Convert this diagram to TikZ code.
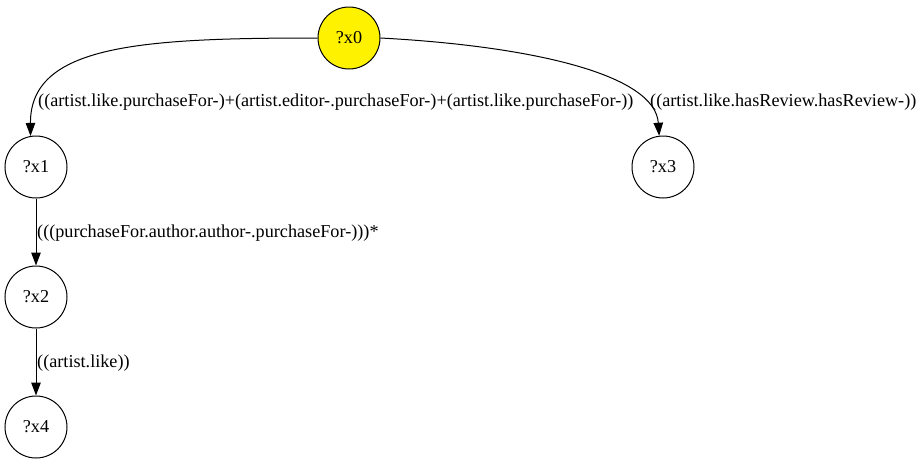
\documentclass[tikz,border=0pt]{standalone}
\usepackage{fontspec}
\setmainfont{Liberation Serif}
\usetikzlibrary{arrows.meta}
\begin{document}
\begin{tikzpicture}[x=1pt,y=-1pt,
  vnode/.style={circle,draw,line width=1pt,minimum size=62pt,inner sep=0pt,font=\fontsize{18.2}{21}\selectfont},
  edge/.style={line width=1pt,-{Triangle[length=13pt,width=9.5pt]}},
  lab/.style={anchor=west,inner sep=0pt,font=\fontsize{18.2}{21}\selectfont}]
\useasboundingbox (0,0) rectangle (922,464);
\node[vnode,fill=yellow] (x0) at (349,38) {?x0};
\node[vnode] (x1) at (36,167) {?x1};
\node[vnode] (x3) at (663,167) {?x3};
\node[vnode] (x2) at (36,297) {?x2};
\node[vnode] (x4) at (36,427) {?x4};
\draw[edge] (x0.west) .. controls (140,38) and (30,45) .. (x1.100);
\draw[edge] (x0.east) .. controls (530,46) and (655,74) .. (x3.97);
\draw[edge] (x1) -- (x2);
\draw[edge] (x2) -- (x4);
\node[lab] (l1) at (38,102) {((artist.like.purchaseFor-)+(artist.editor-.purchaseFor-)+(artist.like.purchaseFor-))};
\node[lab] (l2) at (650,102) {((artist.like.hasReview.hasReview-))};
\node[lab] (l3) at (37,233) {(((purchaseFor.author.author-.purchaseFor-)))*};
\node[lab] (l4) at (37,363) {((artist.like))};
\end{tikzpicture}
\end{document}
